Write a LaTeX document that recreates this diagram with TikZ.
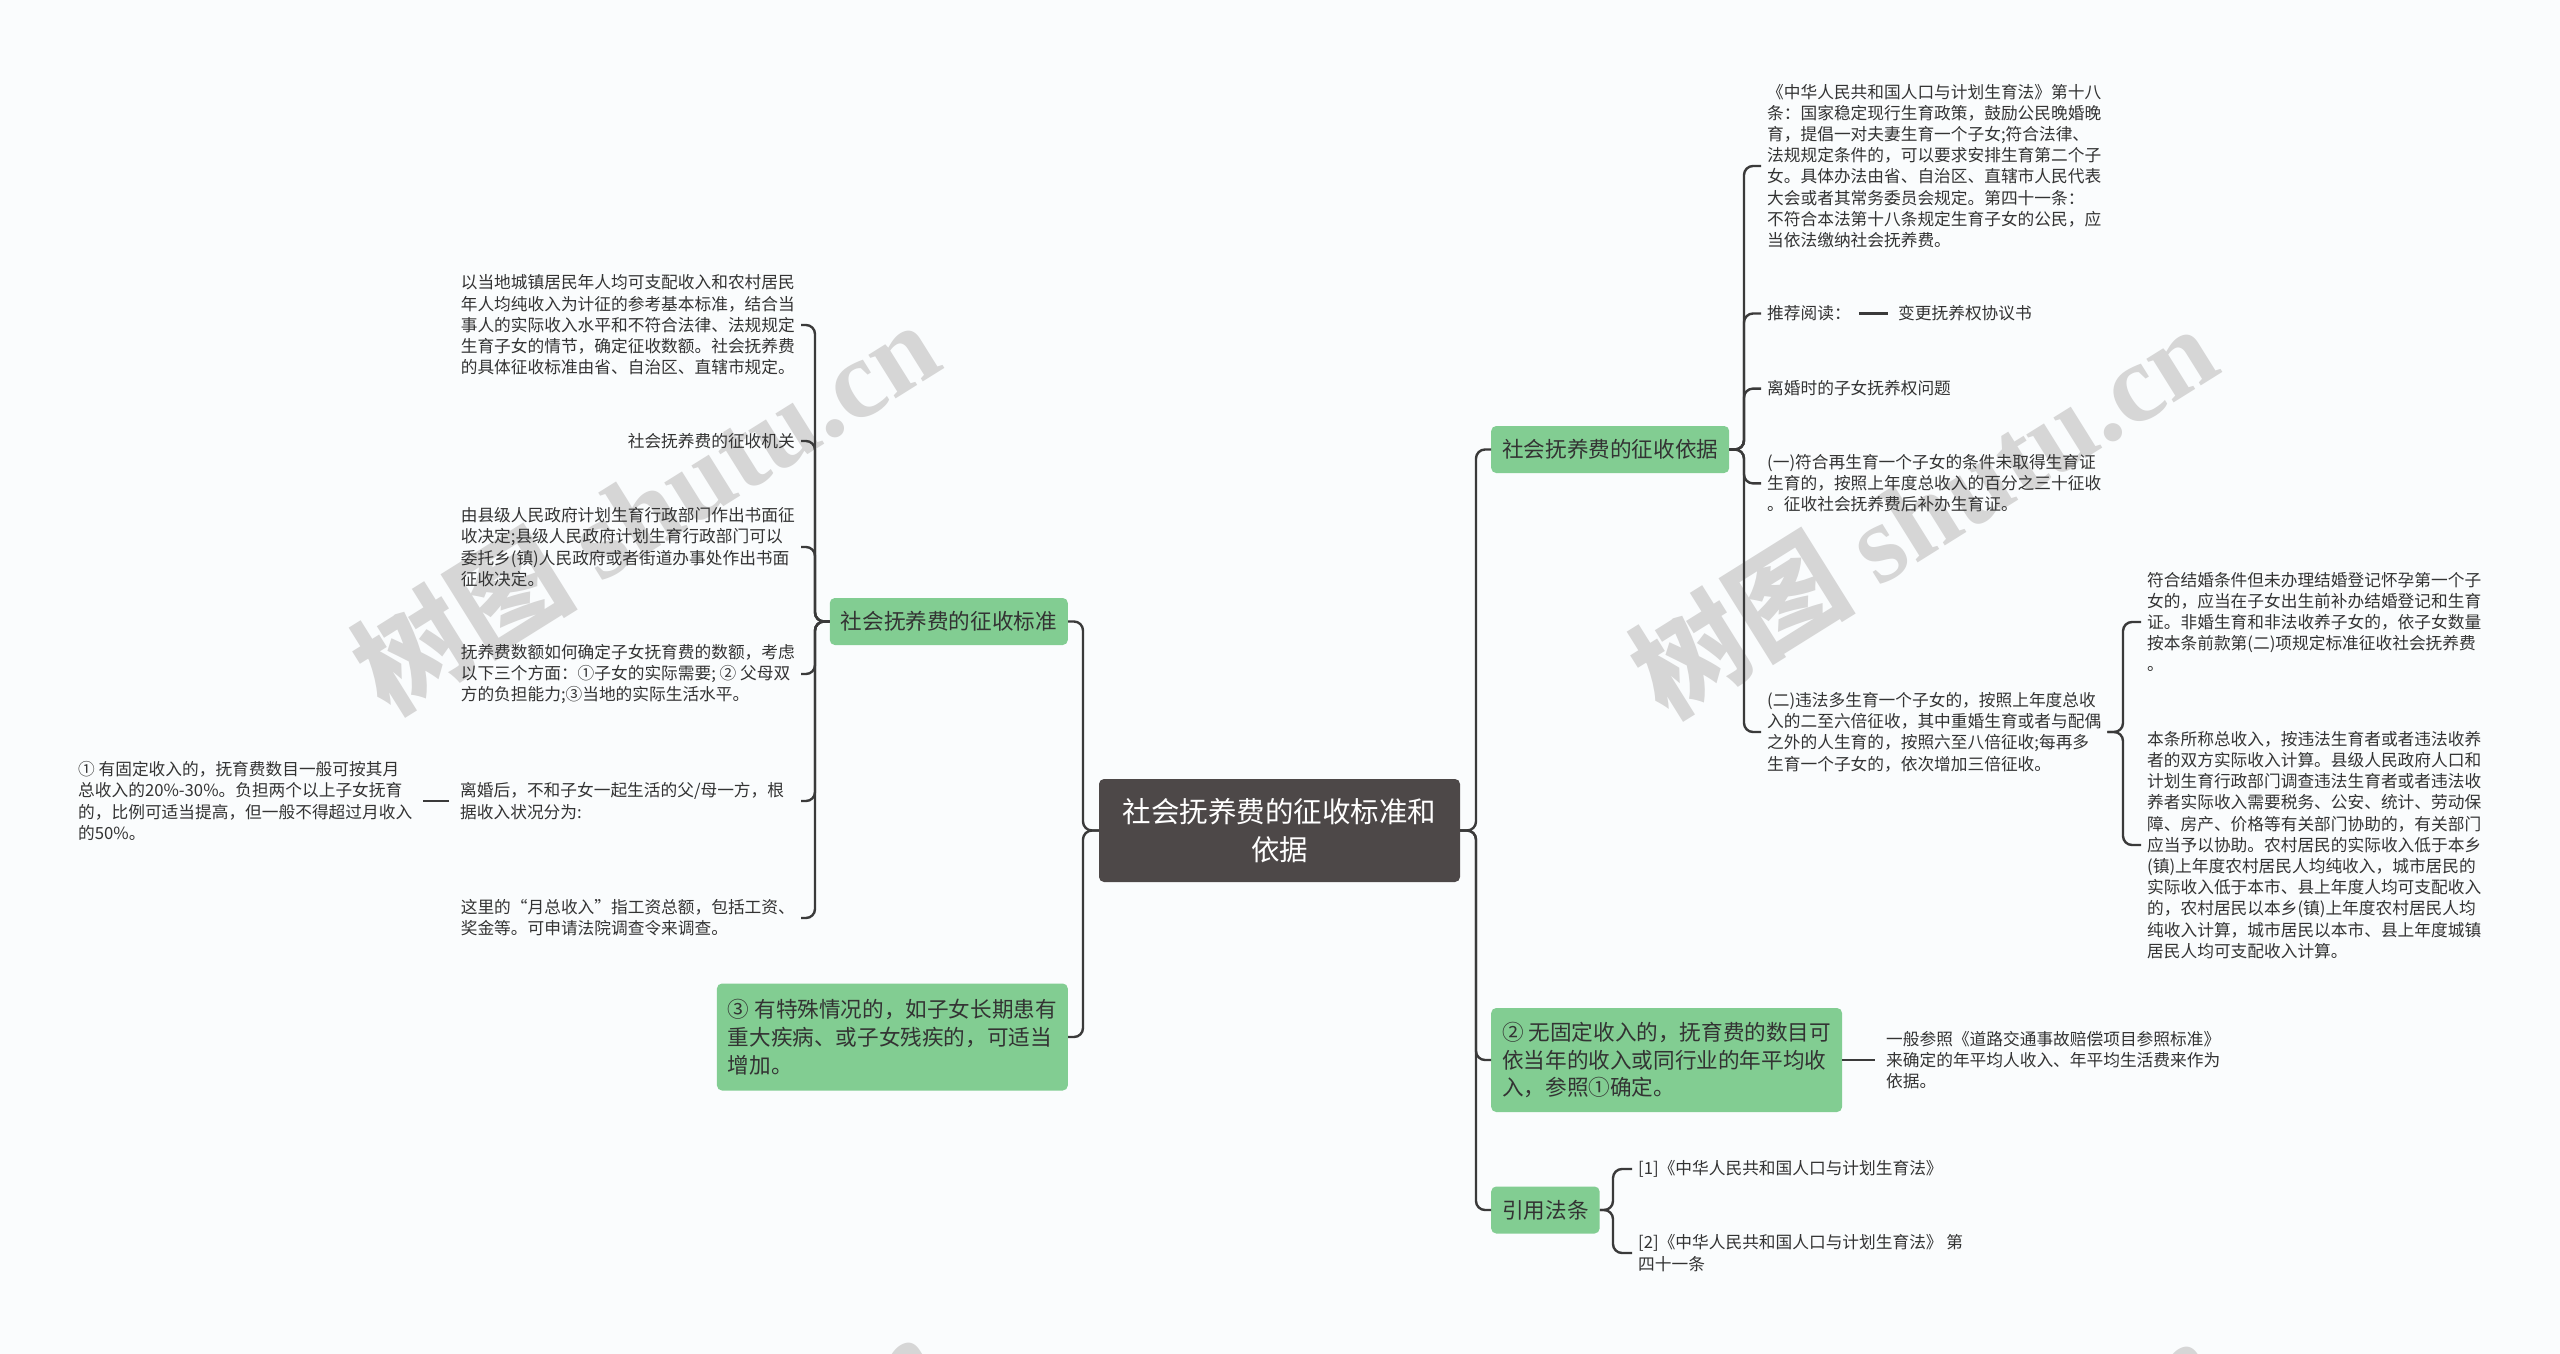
\documentclass[tikz,border=0pt]{standalone}
\usepackage{fontspec}
\setmainfont{Noto Sans CJK SC}
\newfontfamily\wmfont{Liberation Serif}
\usepackage{xcolor}
\definecolor{bggray}{RGB}{250,252,253}
\definecolor{rootgray}{RGB}{77,72,72}
\definecolor{leafgreen}{RGB}{130,205,146}
\definecolor{linegray}{RGB}{58,58,58}
\definecolor{txtgray}{RGB}{51,51,51}
\definecolor{wmgray}{RGB}{214,214,214}

\begin{document}
\begin{tikzpicture}[x=1pt, y=-1pt,
  root/.style={fill=rootgray, text=white, rounded corners=5pt, minimum width=361pt,
    minimum height=103pt, align=center, inner sep=0pt, font=\fontsize{28.5}{37.6}\selectfont},
  branch/.style={fill=leafgreen, text=txtgray, rounded corners=5pt, align=left,
    inner xsep=11pt, minimum height=47pt, font=\fontsize{21.6}{27.8}\selectfont},
  leaf/.style={text=txtgray, align=left, inner xsep=6pt, inner ysep=0pt,
    font=\fontsize{16.7}{21.2}\selectfont},
  link/.style={draw=linegray, line width=2.4pt, rounded corners=9pt},
  watermark/.style={text=wmgray, rotate=32, inner sep=0pt}]
% canvas
\fill[bggray] (0,0) rectangle (2560,1354);
\useasboundingbox (0,0) rectangle (2560,1354);
% watermarks
\begin{scope}
\clip (0,0) rectangle (2560,1354);
\foreach \wx/\wy in {645/506, 1923/510, 645/1518, 1923/1522} {
  \node[watermark] at (\wx,\wy)
    {\fontsize{112}{112}\selectfont\bfseries 树图 {\wmfont\bfseries shutu.cn}};
}
\end{scope}
% central topic
\node[root] (root) at (1279.5,830.5) {社会抚养费的征收标准和\\依据};
% left branches
\node[branch, anchor=east] (lb1) at (1068,621.5) {社会抚养费的征收标准};
\node[branch, anchor=east, minimum height=107pt] (lb2) at (1068,1037)
  {③ 有特殊情况的，如子女长期患有\\重大疾病、或子女残疾的，可适当\\增加。};
% children of the collection standard
\node[leaf, anchor=east] (c1) at (801,325)
  {以当地城镇居民年人均可支配收入和农村居民\\年人均纯收入为计征的参考基本标准，结合当\\事人的实际收入水平和不符合法律、法规规定\\生育子女的情节，确定征收数额。社会抚养费\\的具体征收标准由省、自治区、直辖市规定。};
\node[leaf, anchor=east] (c2) at (801,441) {社会抚养费的征收机关};
\node[leaf, anchor=east] (c3) at (801,547)
  {由县级人民政府计划生育行政部门作出书面征\\收决定;县级人民政府计划生育行政部门可以\\委托乡(镇)人民政府或者街道办事处作出书面\\征收决定。};
\node[leaf, anchor=east] (c4) at (801,674)
  {抚养费数额如何确定子女抚育费的数额，考虑\\以下三个方面：①子女的实际需要; ② 父母双\\方的负担能力;③当地的实际生活水平。};
\node[leaf, anchor=west] (c5) at (454,801)
  {离婚后，不和子女一起生活的父/母一方，根\\据收入状况分为:};
\node[leaf, anchor=east] (c6) at (801,918)
  {这里的“月总收入”指工资总额，包括工资、\\奖金等。可申请法院调查令来调查。};
\node[leaf, anchor=west] (c51) at (72,801)
  {① 有固定收入的，抚育费数目一般可按其月\\总收入的20\%-30\%。负担两个以上子女抚育\\的，比例可适当提高，但一般不得超过月收入\\的50\%。};
% right branches
\node[branch, anchor=west] (rb1) at (1491,449.5) {社会抚养费的征收依据};
\node[branch, anchor=west, minimum height=104pt] (rb2) at (1491,1060)
  {② 无固定收入的，抚育费的数目可\\依当年的收入或同行业的年平均收\\入，参照①确定。};
\node[branch, anchor=west] (rb3) at (1491,1210) {引用法条};
% children of the collection basis
\node[leaf, anchor=west] (d1) at (1761,166)
  {《中华人民共和国人口与计划生育法》第十八\\条：国家稳定现行生育政策，鼓励公民晚婚晚\\育，提倡一对夫妻生育一个子女;符合法律、\\法规规定条件的，可以要求安排生育第二个子\\女。具体办法由省、自治区、直辖市人民代表\\大会或者其常务委员会规定。第四十一条：\\不符合本法第十八条规定生育子女的公民，应\\当依法缴纳社会抚养费。};
\node[leaf, anchor=west] (d2) at (1761,313.5) {推荐阅读：};
\node[leaf, anchor=west] (d2b) at (1892,313.5) {变更抚养权协议书};
\node[leaf, anchor=west] (d3) at (1761,388.6) {离婚时的子女抚养权问题};
\node[leaf, anchor=west] (d4) at (1761,483.4)
  {(一)符合再生育一个子女的条件未取得生育证\\生育的，按照上年度总收入的百分之三十征收\\。征收社会抚养费后补办生育证。};
\node[leaf, anchor=west] (d5) at (1761,732)
  {(二)违法多生育一个子女的，按照上年度总收\\入的二至六倍征收，其中重婚生育或者与配偶\\之外的人生育的，按照六至八倍征收;每再多\\生育一个子女的，依次增加三倍征收。};
\node[leaf, anchor=west] (e1) at (2141,622)
  {符合结婚条件但未办理结婚登记怀孕第一个子\\女的，应当在子女出生前补办结婚登记和生育\\证。非婚生育和非法收养子女的，依子女数量\\按本条前款第(二)项规定标准征收社会抚养费\\。};
\node[leaf, anchor=west] (e2) at (2141,845)
  {本条所称总收入，按违法生育者或者违法收养\\者的双方实际收入计算。县级人民政府人口和\\计划生育行政部门调查违法生育者或者违法收\\养者实际收入需要税务、公安、统计、劳动保\\障、房产、价格等有关部门协助的，有关部门\\应当予以协助。农村居民的实际收入低于本乡\\(镇)上年度农村居民人均纯收入，城市居民的\\实际收入低于本市、县上年度人均可支配收入\\的，农村居民以本乡(镇)上年度农村居民人均\\纯收入计算，城市居民以本市、县上年度城镇\\居民人均可支配收入计算。};
\node[leaf, anchor=west] (g1) at (1880,1060)
  {一般参照《道路交通事故赔偿项目参照标准》\\来确定的年平均人收入、年平均生活费来作为\\依据。};
\node[leaf, anchor=west] (f1) at (1632,1169) {[1]《中华人民共和国人口与计划生育法》};
\node[leaf, anchor=west] (f2) at (1632,1253)
  {[2]《中华人民共和国人口与计划生育法》 第\\四十一条};
% connectors
\foreach \b in {lb1,lb2}
  \draw[link] (root.west) -| ([xshift=15pt]\b.east) -- (\b.east);
\foreach \b in {rb1,rb2,rb3}
  \draw[link] (root.east) -| ([xshift=-15pt]\b.west) -- (\b.west);
\foreach \i in {1,2,3,4,6}
  \draw[link] (lb1.west) -| ([xshift=14pt]c\i.east) -- (c\i.east);
\draw[link] (lb1.west) -| ([xshift=361pt]c5.west) -- ([xshift=347pt]c5.west);
\foreach \i in {1,...,5}
  \draw[link] (rb1.east) -| ([xshift=-17pt]d\i.west) -- (d\i.west);
\foreach \i in {1,2}
  \draw[link] (d5.east) -| ([xshift=-18pt]e\i.west) -- (e\i.west);
\foreach \i in {1,2}
  \draw[link] (rb3.east) -| ([xshift=-19pt]f\i.west) -- (f\i.west);
\draw[link] (rb2.east) -- ([xshift=-5pt]g1.west);
\draw[link] ([xshift=-5pt]c5.west) -- ([xshift=5pt]c51.east);
\draw[link] ([xshift=2pt]d2.east) -- ([xshift=-4pt]d2b.west);
\end{tikzpicture}
\end{document}
